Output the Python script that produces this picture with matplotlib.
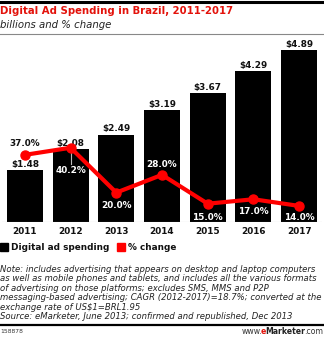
import matplotlib
matplotlib.use('Agg')
import matplotlib.pyplot as plt
import numpy as np

# data
years = ['2011', '2012', '2013', '2014', '2015', '2016', '2017']
spend = [1.48, 2.08, 2.49, 3.19, 3.67, 4.29, 4.89]
pct = [37.0, 40.2, 20.0, 28.0, 15.0, 17.0, 14.0]
spend_labels = ['$1.48', '$2.08', '$2.49', '$3.19', '$3.67', '$4.29', '$4.89']
pct_labels = ['37.0%', '40.2%', '20.0%', '28.0%', '15.0%', '17.0%', '14.0%']

W, H = 324, 337
RED = '#ff0000'
fig = plt.figure(figsize=(W/100, H/100), dpi=100)

def fy(py):
    # pixel from top -> figure fraction
    return 1 - py/H

def fx(px):
    return px/W

# header lines and titles
fig.add_artist(plt.Line2D([0, 1], [fy(1.5), fy(1.5)], color='black', lw=2.2))
fig.text(fx(0), fy(11), 'Digital Ad Spending in Brazil, 2011-2017', color='#e3120b',
         fontsize=7.25, fontweight='bold', va='center', ha='left')
fig.text(fx(0), fy(25), 'billions and % change', color='#222222',
         fontsize=7.3, style='italic', va='center', ha='left')
fig.add_artist(plt.Line2D([0, 1], [fy(33.5), fy(33.5)], color='#888888', lw=0.8))

# main axes: pixels 2..322 in x, 40..222 in y
ax = fig.add_axes([fx(2), fy(222), fx(320), (222-40)/H])
x = np.arange(len(years))
ax.bar(x, spend, width=0.79, color='black', zorder=2)
ax.set_xlim(-0.5, 6.5)
ax.set_ylim(0, 182/35.1)
ax.axis('off')
ax.axhline(0, color='#aaaaaa', lw=0.8, zorder=3)
for i in range(len(years)):
    ax.text(x[i], spend[i] + 0.04, spend_labels[i], ha='center', va='bottom',
            fontsize=6.4, fontweight='bold', color='#111111', zorder=6)
    ax.text(x[i], -0.27, years[i], ha='center', va='center',
            fontsize=6.4, fontweight='bold', color='#111111')

# secondary axis for % change
ax2 = ax.twinx()
ax2.set_ylim(15/2.22, 197/2.22)
ax2.axis('off')
ax2.plot(x, pct, color=RED, lw=3, marker='o', ms=6.5, zorder=4, solid_capstyle='round')

# percent labels (offsets in % units)
offs = [5.2, -10.4, -6.0, 4.6, -6.0, -5.4, -5.4]
for i in range(len(years)):
    col = '#111111' if i == 0 else 'white'
    ax2.text(x[i], pct[i] + offs[i], pct_labels[i], ha='center', va='center',
             fontsize=6.4, fontweight='bold', color=col, zorder=5)
ax2.plot([x[1], x[1]], [pct[1] - 1.5, pct[1] - 7.5], color='#bbbbbb', lw=0.8, zorder=3)

# legend
fig.patches.append(plt.Rectangle((fx(0), fy(251)), fx(8), 8/H, color='black',
                                 transform=fig.transFigure, figure=fig))
fig.text(fx(11), fy(247), 'Digital ad spending', fontsize=6.4, fontweight='bold',
         va='center', ha='left', color='#111111')
fig.patches.append(plt.Rectangle((fx(117), fy(251)), fx(8), 8/H, color=RED,
                                 transform=fig.transFigure, figure=fig))
fig.text(fx(128), fy(247), '% change', fontsize=6.4, fontweight='bold',
         va='center', ha='left', color='#111111')

# notes
note = ('Note: includes advertising that appears on desktop and laptop computers\n'
        'as well as mobile phones and tablets, and includes all the various formats\n'
        'of advertising on those platforms; excludes SMS, MMS and P2P\n'
        'messaging-based advertising; CAGR (2012-2017)=18.7%; converted at the\n'
        'exchange rate of US$1=BRL1.95\n'
        'Source: eMarketer, June 2013; confirmed and republished, Dec 2013')
fig.text(fx(0), fy(265), note, fontsize=6.15, style='italic', va='top', ha='left',
         color='#222222', linespacing=1.07)

# footer
fig.add_artist(plt.Line2D([0, 1], [fy(324.5), fy(324.5)], color='black', lw=1.6))
fig.text(fx(0), fy(331.5), '158878', fontsize=4.3, va='center', ha='left', color='#333333')

# www.eMarketer.com, built right to left
r = fig.canvas.get_renderer()
parts = [('.com', 'normal', '#333333'), ('Marketer', 'bold', '#222222'),
         ('e', 'bold', '#e3120b'), ('www.', 'normal', '#333333')]
xr = 323
for s, wgt, c in parts:
    t = fig.text(fx(xr), fy(331.5), s, fontsize=5.6, fontweight=wgt, va='center',
                 ha='right', color=c)
    xr -= t.get_window_extent(renderer=r).width - 1.2

fig.savefig('out.png', dpi=100)
